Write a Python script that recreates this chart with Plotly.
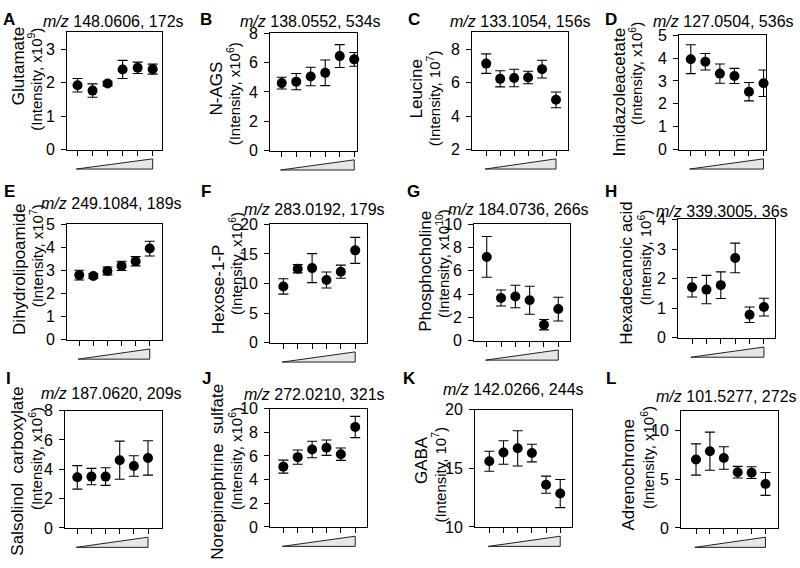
import plotly.graph_objects as go

W, H = 800, 568

letters = ["A", "B", "C", "D", "E", "F", "G", "H", "I", "J", "K", "L"]
titles = ["148.0606, 172s", "138.0552, 534s", "133.1054, 156s", "127.0504, 536s",
          "249.1084, 189s", "283.0192, 179s", "184.0736, 266s", "339.3005, 36s",
          "187.0620, 209s", "272.0210, 321s", "142.0266, 244s", "101.5277, 272s"]
names = ["Glutamate", "N-AGS", "Leucine", "Imidazoleacetate",
         "Dihydrolipoamide", "Hexose-1-P", "Phosphocholine", "Hexadecanoic acid",
         "Salsolinol\u00a0 carboxylate", "Norepinephrine\u00a0 sulfate", "GABA", "Adrenochrome"]
units = ["(Intensity, x10<sup>9</sup>)", "(Intensity, x10<sup>6</sup>)", "(Intensity, 10<sup>7</sup>)",
         "(Intensity, x10<sup>6</sup>)", "(Intensity, x10<sup>7</sup>)", "(Intensity, x10<sup>6</sup>)",
         "(Intensity, x10<sup>10</sup>)", "(Intensity, 10<sup>6</sup>)", "(Intensity, x10<sup>6</sup>)",
         "(Intensity, x10<sup>6</sup>)", "(Intensity, 10<sup>7</sup>)", "(Intensity, x10<sup>6</sup>)"]

dose = [1, 2, 3, 4, 5, 6]

means = [
    [1.92, 1.76, 1.97, 2.39, 2.44, 2.40],
    [4.60, 4.70, 5.05, 5.30, 6.44, 6.22],
    [7.13, 6.22, 6.27, 6.30, 6.80, 4.97],
    [3.95, 3.84, 3.32, 3.22, 2.53, 2.90],
    [2.80, 2.76, 2.98, 3.20, 3.40, 3.95],
    [9.5, 12.5, 12.6, 10.6, 12.0, 15.6],
    [7.20, 3.67, 3.80, 3.48, 1.38, 2.72],
    [1.71, 1.63, 1.78, 2.70, 0.78, 1.04],
    [3.45, 3.50, 3.50, 4.62, 4.22, 4.77],
    [5.10, 5.90, 6.55, 6.70, 6.15, 8.45],
    [15.6, 16.35, 16.7, 16.3, 13.6, 12.85],
    [7.00, 7.85, 7.15, 5.70, 5.65, 4.50],
]
errs = [
    [0.20, 0.20, 0.07, 0.27, 0.17, 0.15],
    [0.40, 0.55, 0.63, 0.87, 0.78, 0.47],
    [0.58, 0.48, 0.52, 0.37, 0.53, 0.47],
    [0.63, 0.36, 0.42, 0.33, 0.40, 0.58],
    [0.21, 0.10, 0.17, 0.20, 0.20, 0.32],
    [1.30, 0.70, 2.45, 1.35, 1.10, 2.20],
    [1.75, 0.69, 0.97, 1.20, 0.45, 1.02],
    [0.33, 0.48, 0.45, 0.50, 0.26, 0.30],
    [0.80, 0.56, 0.60, 1.30, 0.70, 1.17],
    [0.55, 0.60, 0.70, 0.65, 0.52, 0.90],
    [0.85, 1.00, 1.50, 0.75, 0.73, 1.20],
    [1.60, 1.95, 1.15, 0.60, 0.60, 1.17],
]
yranges = [[0, 3.5], [0, 8], [2, 9], [0, 5], [0, 5], [0, 20], [0, 10], [0, 4],
           [0, 8], [0, 10], [10, 20], [0, 12]]
ydticks = [1, 2, 2, 1, 1, 5, 2, 1, 2, 2, 5, 5]

# layout in pixels: plot box (left, right, top, bottom), x range
boxes = [(67, 162, 25, 146), (270, 357, 26, 147), (472, 568, 25, 146), (679, 766, 28, 146),
         (67, 162, 223, 342), (270, 367, 223, 345), (474, 570, 223, 343), (678, 775, 218, 340),
         (65, 162, 415, 536), (270, 367, 413, 535), (475, 572, 414, 535), (681, 778, 415, 536)]
xranges = [[0.3, 6.62], [0.19, 6.19], [-0.02, 6.86], [0.19, 6.17],
           [0.13, 6.87], [0.07, 6.82], [0.11, 6.82], [0.02, 6.77],
           [0.13, 6.99], [0.07, 6.82], [-0.01, 6.83], [-0.08, 6.9]]
letter_pos = [(9, 12), (206, 12), (414, 12), (611, 12),
              (9, 189), (206, 189), (414, 189), (611, 189),
              (8, 382), (206, 382), (409, 382), (611, 382)]
# title: left edge x, centre y
title_pos = [(42, 14), (239, 14), (449, 14), (652, 14),
             (40, 202), (243, 208), (447, 208), (655, 210),
             (40, 397), (243, 398), (442, 393), (655, 400)]
# y label (x line1, y line1, x line2, y line2)
label_pos = [(18, 60, 35, 74), (217, 83, 233, 89), (417, 83, 433, 93), (619, 87, 636, 68),
             (20, 270, 36, 256), (218, 290, 235, 264), (426, 272, 442, 264), (627, 273, 644, 257),
             (18, 478, 35, 465), (218, 478, 235, 465), (421, 466, 439, 481), (629, 481, 647, 464)]

FONT = "Liberation Sans, Arial, sans-serif"


def px(x):
    return x / W


def py(y):
    return 1 - y / H


fig = go.Figure()
annotations = []
shapes = []
axes = {}

for i in range(12):
    n = i + 1
    sfx = "" if n == 1 else str(n)
    l, r, t, b = boxes[i]
    fig.add_trace(go.Scatter(
        x=dose, y=means[i],
        mode="markers",
        marker=dict(color="black", size=10),
        error_y=dict(type="data", array=errs[i], color="black", thickness=1.1, width=5),
        xaxis="x" + sfx, yaxis="y" + sfx,
        showlegend=False, cliponaxis=False,
    ))
    axes["xaxis" + sfx] = dict(
        domain=[px(l), px(r)], anchor="y" + sfx, range=xranges[i],
        tickvals=dose, showticklabels=False, ticks="outside", ticklen=5,
        tickcolor="black", showline=True, linecolor="black", linewidth=1,
        mirror=True, showgrid=False, zeroline=False, fixedrange=True,
    )
    axes["yaxis" + sfx] = dict(
        domain=[py(b), py(t)], anchor="x" + sfx, range=yranges[i],
        dtick=ydticks[i], tick0=0, ticks="outside", ticklen=5,
        tickcolor="black", showline=True, linecolor="black", linewidth=1,
        mirror=True, showgrid=False, zeroline=False, ticklabelstandoff=3,
        tickfont=dict(size=16, color="black"),
    )
    # dose wedge under the x axis
    yb = py(b + 20)
    yt = py(b + 9.5)
    shapes.append(dict(
        type="path", xref="x" + sfx, yref="paper",
        path=f"M {0.92},{yb} L 6,{yb} L 6,{yt} Z",
        fillcolor="#e6e6e6", line=dict(color="#222222", width=1),
    ))
    lx, ly = letter_pos[i]
    annotations.append(dict(
        text="<b>" + letters[i] + "</b>", x=px(lx), y=py(ly), xref="paper", yref="paper",
        showarrow=False, font=dict(size=17, color="black"), xanchor="center", yanchor="middle",
    ))
    tx, ty = title_pos[i]
    annotations.append(dict(
        text="<i>m/z</i> " + titles[i], x=px(tx), y=py(ty), xref="paper", yref="paper",
        showarrow=False, font=dict(size=16, color="black"), xanchor="left", yanchor="middle",
        borderpad=0,
    ))
    x1, y1, x2, y2 = label_pos[i]
    annotations.append(dict(
        text=names[i], x=px(x1), y=py(y1), xref="paper", yref="paper", textangle=-90,
        showarrow=False, font=dict(size=17, color="black"), xanchor="center", yanchor="middle",
    ))
    annotations.append(dict(
        text=units[i], x=px(x2), y=py(y2), xref="paper", yref="paper", textangle=-90,
        showarrow=False, font=dict(size=15, color="black"), xanchor="center", yanchor="middle",
    ))

fig.update_layout(
    width=W, height=H,
    margin=dict(l=0, r=0, t=0, b=0),
    paper_bgcolor="white", plot_bgcolor="white",
    font=dict(family=FONT, color="black"),
    annotations=annotations, shapes=shapes,
    **axes,
)

# drop the browser's default 8px body margin so the figure sits at the page corner
fig.write_html("out.html", config={"displayModeBar": False},
               post_script="document.body.style.margin = '0';")
